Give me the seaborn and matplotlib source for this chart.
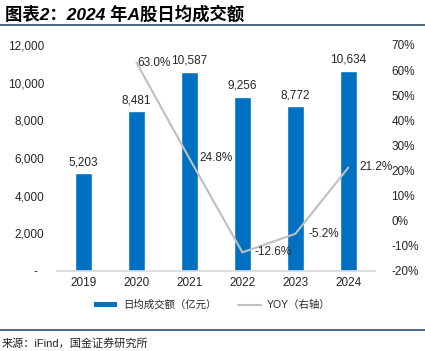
import matplotlib
matplotlib.use("Agg")
import matplotlib.pyplot as plt
import seaborn as sns
import pandas as pd
from matplotlib.lines import Line2D
from matplotlib.patches import Patch
import matplotlib.ticker as ticker

years = ['2019', '2020', '2021', '2022', '2023', '2024']
turnover = [5203, 8481, 10587, 9256, 8772, 10634]
yoy_years = ['2020', '2021', '2022', '2023', '2024']
yoy = [63.0, 24.8, -12.6, -5.2, 21.2]

BLUE = '#0070C0'
GREY = '#BFBFBF'
RULE = '#2F4F6F'


def main():
	sns.set_theme(style="white")
	plt.rcParams['font.family'] = ['Liberation Sans', 'Noto Sans CJK SC', 'DejaVu Sans']
	plt.rcParams['axes.unicode_minus'] = False

	fig = plt.figure(figsize=(4.25, 3.51), dpi=100)
	ax = fig.add_axes([0.134, 0.228, 0.748, 0.644])

	df = pd.DataFrame({'year': years, 'value': turnover})
	sns.barplot(data=df, x='year', y='value', color=BLUE, saturation=1,
				width=0.32, ax=ax)
	ax.set_ylim(0, 12000)
	ax.set_xlim(-0.5, len(years) - 0.5)
	ax.set_xlabel('')
	ax.set_ylabel('')
	ax.yaxis.set_major_locator(ticker.MultipleLocator(2000))
	ax.yaxis.set_major_formatter(ticker.FuncFormatter(
		lambda v, p: '-  ' if v == 0 else f'{int(v):,}'))
	for s in ['top', 'right', 'left']:
		ax.spines[s].set_visible(False)
	ax.spines['bottom'].set_color('#D9D9D9')
	ax.tick_params(axis='both', length=0, labelsize=8.5, colors='#262626', pad=4)
	ax.tick_params(axis='y', pad=9)
	for i, v in enumerate(turnover):
		ax.text(i, v + 250, f'{v:,}', ha='center', va='bottom', fontsize=8.5,
				color='#262626')

	ax2 = ax.twinx()
	xpos = [years.index(y) for y in yoy_years]
	sns.lineplot(x=xpos, y=yoy, color=GREY, linewidth=1.5, ax=ax2)
	ax2.set_ylim(-20, 70)
	ax2.yaxis.set_major_locator(ticker.MultipleLocator(10))
	ax2.yaxis.set_major_formatter(ticker.FuncFormatter(lambda v, p: f'{int(round(v))}%'))
	for s in ['top', 'right', 'left', 'bottom']:
		ax2.spines[s].set_visible(False)
	ax2.tick_params(axis='y', length=0, labelsize=8.5, colors='#262626', pad=12)
	offsets = [0.02, 0.19, 0.23, 0.25, 0.2]
	for x, v, dx in zip(xpos, yoy, offsets):
		ax2.text(x + dx, v, f'{v:.1f}%', ha='left', va='center', fontsize=8.5,
				 color='#262626')

	# title and rules
	fig.text(0.012, 0.962, '图表2：2024 年A股日均成交额', fontsize=12.5,
			 fontweight='bold', style='italic', va='center', ha='left', color='black')
	fig.add_artist(Line2D([0, 1], [0.928, 0.928], color=RULE, linewidth=1.2))
	fig.add_artist(Line2D([0, 1], [0.06, 0.06], color=RULE, linewidth=1.2))
	fig.text(0.005, 0.022, '来源：iFind，国金证券研究所', fontsize=8, va='center',
			 ha='left', color='#262626')

	handles = [Patch(facecolor=BLUE, edgecolor='none'),
			   Line2D([0], [0], color=GREY, linewidth=1.5)]
	fig.legend(handles, ['日均成交额（亿元）', 'YOY（右轴）'], loc='center',
			   bbox_to_anchor=(0.5, 0.131), ncol=2, frameon=False, fontsize=7.5,
			   handlelength=2.2, handleheight=0.5, columnspacing=2.0, handletextpad=0.6)

	fig.savefig('out.png', dpi=100)


if __name__ == '__main__':
	main()
